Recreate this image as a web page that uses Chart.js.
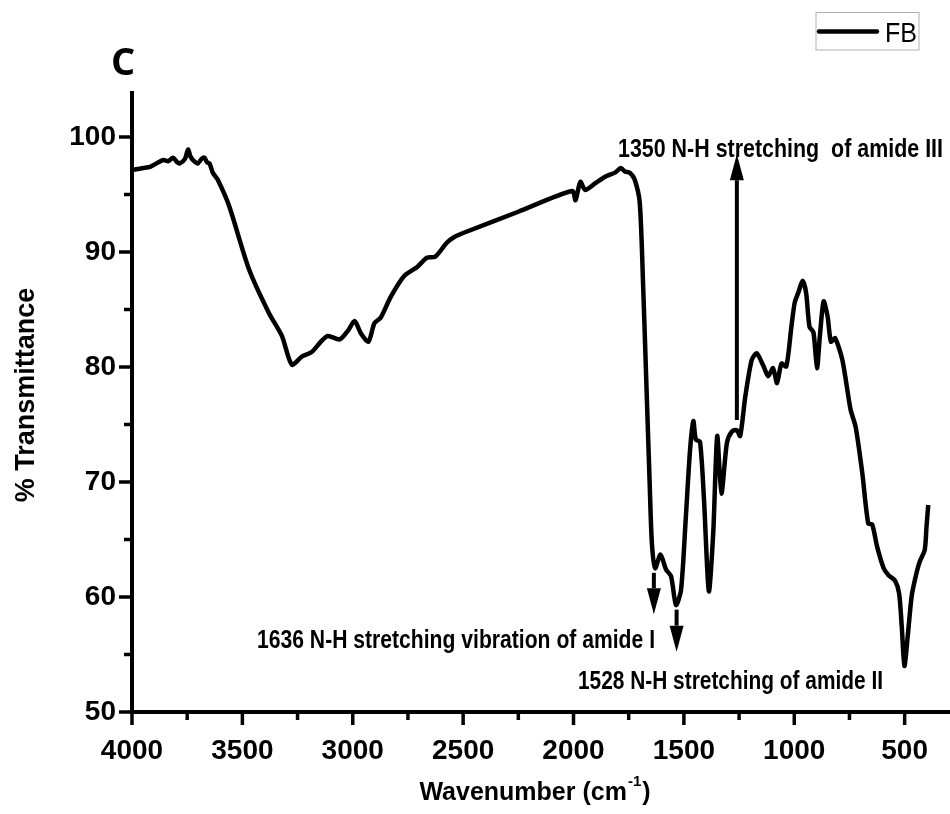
<!DOCTYPE html>
<html>
<head>
<meta charset="utf-8">
<script src="https://cdn.jsdelivr.net/npm/chart.js@4.4.1/dist/chart.umd.min.js"></script>
<style>
  html, body { margin: 0; padding: 0; background: #fff; }
  canvas { display: block; }
</style>
</head>
<body>
<canvas id="ftirChart" width="950" height="814"></canvas>
<script>
// FTIR spectrum of sample FB
const wavenumbers = [
  4000, 3993, 3950, 3918, 3880, 3858, 3835, 3814, 3795, 3784, 3760, 3746, 3735, 3724, 3702,
  3685, 3672, 3660, 3649, 3634, 3612, 3560, 3470, 3380, 3321, 3276, 3231, 3186, 3140, 3112,
  3059, 3020, 2992, 2962, 2929, 2902, 2873, 2828, 2768, 2708, 2664, 2626, 2574, 2540, 2500,
  2250, 2006, 1991, 1969, 1947, 1900, 1850, 1812, 1785, 1767, 1745, 1723, 1700, 1685, 1670,
  1655, 1645, 1630, 1606, 1581, 1558, 1536, 1513, 1491, 1472, 1457, 1446, 1427, 1409, 1387,
  1367, 1349, 1330, 1305, 1282, 1260, 1245, 1222, 1193, 1170, 1140, 1118, 1096, 1078, 1058,
  1036, 1013, 998, 983, 961, 946, 931, 913, 897, 884, 867, 849, 834, 815, 782,
  745, 722, 692, 665, 647, 625, 595, 573, 543, 525, 513, 501, 486, 468, 446,
  431, 409, 401, 393
];
const transmittance = [
  97.1, 97.16, 97.3, 97.4, 97.8, 98.0, 97.9, 98.2, 97.8, 97.7, 98.1, 98.9, 98.3, 98.0, 97.7,
  98.1, 98.2, 97.8, 97.7, 96.9, 96.3, 94.0, 88.5, 84.7, 82.7, 80.2, 80.9, 81.3, 82.3, 82.7,
  82.4, 83.2, 84.0, 82.9, 82.2, 83.8, 84.3, 86.1, 87.9, 88.7, 89.5, 89.6, 90.8, 91.3, 91.65,
  93.5, 95.3, 94.5, 96.1, 95.4, 96.0, 96.6, 96.9, 97.3, 97.0, 96.9, 96.3, 94.3, 87.3, 78.6,
  69.9, 64.7, 62.5, 63.7, 62.4, 61.8, 59.3, 60.6, 67.0, 72.8, 75.3, 73.7, 73.5, 68.5, 60.5,
  65.6, 74.0, 69.0, 73.4, 74.4, 74.5, 74.0, 77.4, 80.6, 81.2, 80.1, 79.2, 79.9, 78.6, 80.3,
  80.05, 83.5, 85.6, 86.4, 87.5, 86.4, 83.5, 83.0, 79.9, 82.7, 85.7, 84.4, 82.2, 82.5, 80.6,
  76.3, 74.8, 70.8, 66.4, 66.3, 64.4, 62.5, 61.9, 61.4, 60.3, 57.4, 54.0, 56.6, 60.1, 62.1,
  63.1, 64.1, 66.1, 68.0
];
const xTickValues = [4000, 3750, 3500, 3250, 3000, 2750, 2500, 2250, 2000, 1750, 1500, 1250, 1000, 750, 500];
const yTickValues = [50, 55, 60, 65, 70, 75, 80, 85, 90, 95, 100];

// peak annotations: [wavenumber, arrow start %T, arrow tip %T]
const peakArrows = [
  [1260, 75.4, 98.5],
  [1636, 62.1, 58.5],
  [1533, 58.9, 55.25]
];

const NARROW = "'Liberation Sans Narrow', 'Liberation Sans', Arial, sans-serif";
const SANS = "'Liberation Sans', Arial, sans-serif";

function fitText(ctx, text, right, baseline, width, font) {
  ctx.save();
  ctx.font = font;
  const w = ctx.measureText(text).width;
  const k = width / w;
  ctx.translate(right - width, baseline);
  ctx.scale(k, 1);
  ctx.textAlign = 'left';
  ctx.textBaseline = 'alphabetic';
  ctx.fillText(text, 0, 0);
  ctx.restore();
}

function arrow(ctx, x, y0, y1) {
  const dir = y1 < y0 ? -1 : 1;
  const head = 26;
  ctx.beginPath();
  ctx.moveTo(x, y0);
  ctx.lineTo(x, y1 - dir * head);
  ctx.lineWidth = 4;
  ctx.stroke();
  ctx.beginPath();
  ctx.moveTo(x, y1);
  ctx.lineTo(x - 7, y1 - dir * head);
  ctx.lineTo(x + 7, y1 - dir * head);
  ctx.closePath();
  ctx.fill();
}

const decorations = {
  id: 'decorations',
  afterDraw(chart) {
    const ctx = chart.ctx;
    const xs = chart.scales.x;
    const ys = chart.scales.y;
    const area = chart.chartArea;
    ctx.save();
    ctx.strokeStyle = '#000';
    ctx.fillStyle = '#000';
    ctx.lineCap = 'butt';

    // axis lines
    ctx.lineWidth = 4;
    ctx.beginPath();
    ctx.moveTo(area.left, area.top);
    ctx.lineTo(area.left, area.bottom);
    ctx.lineTo(chart.width, area.bottom);
    ctx.stroke();

    // tick marks
    ctx.lineWidth = 3.5;
    xTickValues.forEach(v => {
      const px = xs.getPixelForValue(v);
      const len = v % 500 === 0 ? 13 : 8;
      ctx.beginPath();
      ctx.moveTo(px, area.bottom);
      ctx.lineTo(px, area.bottom + len);
      ctx.stroke();
    });
    yTickValues.forEach(v => {
      const py = ys.getPixelForValue(v);
      const len = v % 10 === 0 ? 13 : 8;
      ctx.beginPath();
      ctx.moveTo(area.left, py);
      ctx.lineTo(area.left - len, py);
      ctx.stroke();
    });

    // axis titles
    ctx.font = 'bold 27px ' + SANS;
    ctx.textBaseline = 'middle';
    ctx.textAlign = 'center';
    ctx.save();
    ctx.translate(27, 395);
    ctx.rotate(-Math.PI / 2);
    ctx.fillText('% Transmittance', 0, 0);
    ctx.restore();

    ctx.font = 'bold 25px ' + SANS;
    ctx.textBaseline = 'alphabetic';
    ctx.textAlign = 'left';
    const t1 = 'Wavenumber (cm';
    const t2 = '-1';
    const t3 = ')';
    const w1 = ctx.measureText(t1).width;
    const w3 = ctx.measureText(t3).width;
    ctx.font = 'bold 15px ' + SANS;
    const w2 = ctx.measureText(t2).width;
    let tx = 535 - (w1 + w2 + w3 + 2) / 2;
    ctx.font = 'bold 25px ' + SANS;
    ctx.fillText(t1, tx, 800);
    ctx.font = 'bold 15px ' + SANS;
    ctx.fillText(t2, tx + w1 + 1, 786);
    ctx.font = 'bold 25px ' + SANS;
    ctx.fillText(t3, tx + w1 + w2 + 2, 800);

    // peak arrows
    peakArrows.forEach(([w, from, to]) => {
      arrow(ctx, xs.getPixelForValue(w), ys.getPixelForValue(from), ys.getPixelForValue(to));
    });

    // peak labels
    const annFont = 'bold 25px ' + SANS;
    fitText(ctx, '1350 N-H stretching  of amide III', 943, 157, 325, annFont);
    fitText(ctx, '1636 N-H stretching vibration of amide I', 655, 648, 398, annFont);
    fitText(ctx, '1528 N-H stretching of amide II', 883, 689, 305, annFont);

    // panel letter
    ctx.font = "bold 38px 'Open Sans', " + SANS;
    ctx.textAlign = 'left';
    ctx.fillText('C', 111, 75);

    // legend box
    ctx.lineWidth = 1;
    ctx.strokeStyle = '#b0b0b0';
    ctx.strokeRect(816, 12.5, 103, 37.5);
    ctx.strokeStyle = '#000';
    ctx.lineWidth = 4.5;
    ctx.lineCap = 'round';
    ctx.beginPath();
    ctx.moveTo(819, 31.5);
    ctx.lineTo(877, 31.5);
    ctx.stroke();
    fitText(ctx, 'FB', 917, 42, 32, '27px ' + SANS);

    ctx.restore();
  }
};

new Chart(document.getElementById('ftirChart'), {
  type: 'line',
  data: {
    datasets: [{
      label: 'FB',
      data: wavenumbers.map((w, i) => ({ x: w, y: transmittance[i] })),
      borderColor: '#000',
      borderWidth: 4.5,
      pointRadius: 0,
      tension: 0.25,
      fill: false
    }]
  },
  options: {
    responsive: false,
    animation: false,
    layout: { padding: { top: 91, right: 0, bottom: 0, left: 0 } },
    plugins: {
      legend: { display: false },
      tooltip: { enabled: false }
    },
    scales: {
      x: {
        type: 'linear',
        reverse: true,
        min: 334,
        max: 4000,
        afterBuildTicks: s => { s.ticks = xTickValues.map(v => ({ value: v })); },
        afterFit: s => { s.height = 102; },
        grid: { display: false, drawTicks: false },
        border: { display: false },
        ticks: {
          autoSkip: false,
          maxRotation: 0,
          padding: 22,
          color: '#000',
          font: { family: NARROW, size: 28, weight: 'bold' },
          callback: v => (v % 500 === 0 ? v : '')
        }
      },
      y: {
        min: 50,
        max: 104,
        afterBuildTicks: s => { s.ticks = yTickValues.map(v => ({ value: v })); },
        afterFit: s => { s.width = 132; },
        grid: { display: false, drawTicks: false },
        border: { display: false },
        ticks: {
          autoSkip: false,
          padding: 16,
          color: '#000',
          font: { family: NARROW, size: 28, weight: 'bold' },
          callback: v => (v % 10 === 0 ? v : '')
        }
      }
    }
  },
  plugins: [decorations]
});
</script>
</body>
</html>
